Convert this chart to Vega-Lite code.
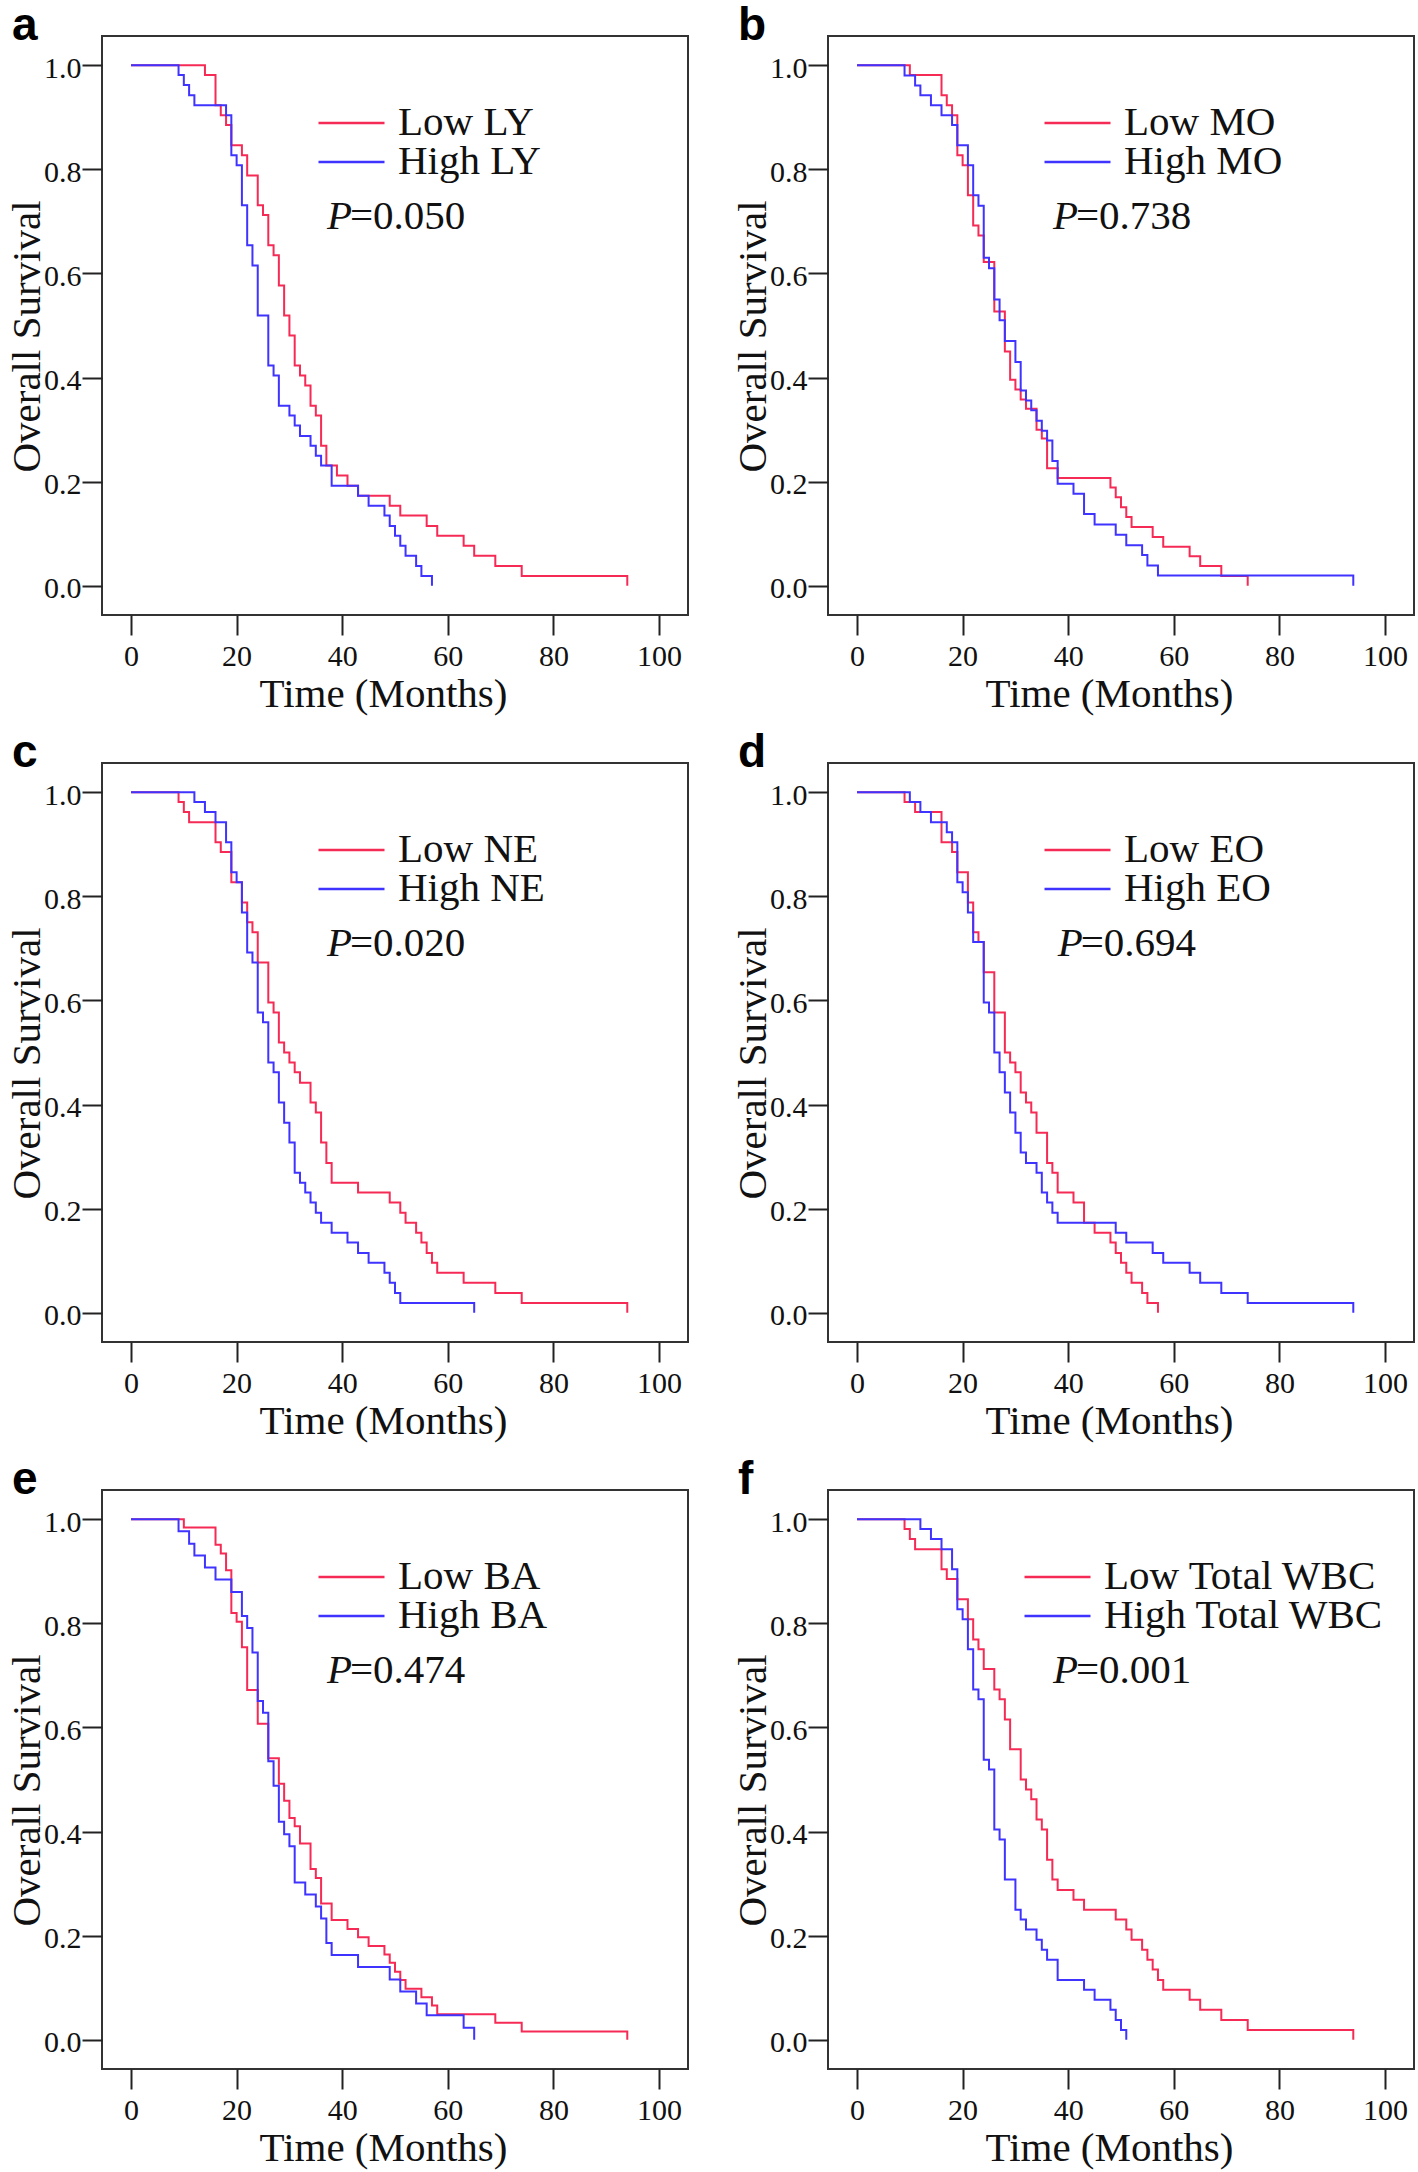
{
"$schema": "https://vega.github.io/schema/vega-lite/v6.json",
"padding": {"left": 5, "top": 2, "right": 2, "bottom": 2},
"background": "white",
"config": {
 "font": "Liberation Serif",
 "view": {"stroke": "#333", "strokeWidth": 2},
 "axis": {"grid": false, "domain": false, "tickColor": "#222", "tickWidth": 2, "tickSize": 20, "labelFont": "Liberation Serif", "labelFontSize": 30, "labelColor": "#111", "titleFont": "Liberation Serif", "titleFontSize": 41, "titleFontWeight": "normal", "titleColor": "#111", "labelFlush": false, "labelOverlap": false},
 "axisX": {"labelPadding": 6, "titlePadding": 3, "titleX": 281},
 "axisY": {"labelPadding": 1, "labelOffset": 3, "titlePadding": 4, "titleBaseline": "alphabetic", "titleY": 300},
 "legend": {"orient": "none", "legendX": 215, "legendY": 70, "symbolType": "stroke", "symbolSize": 4356, "symbolStrokeWidth": 2.5, "labelFont": "Liberation Serif", "labelFontSize": 41, "labelColor": "#111", "labelOffset": 12, "labelLimit": 500, "clipHeight": 34, "rowPadding": -2},
 "title": {"font": "Liberation Sans", "fontSize": 46, "fontWeight": "bold", "anchor": "start", "frame": "group", "dx": -90, "offset": -14, "baseline": "alphabetic", "color": "#000"}
},
"datasets": {
 "a": [
  {"t":0,"s":1,"g":"Low LY"},{"t":14,"s":0.981,"g":"Low LY"},{"t":16,"s":0.923,"g":"Low LY"},{"t":17,"s":0.904,"g":"Low LY"},{"t":18,"s":0.885,"g":"Low LY"},{"t":19,"s":0.846,"g":"Low LY"},{"t":21,"s":0.827,"g":"Low LY"},{"t":22,"s":0.788,"g":"Low LY"},{"t":24,"s":0.731,"g":"Low LY"},{"t":25,"s":0.712,"g":"Low LY"},{"t":26,"s":0.654,"g":"Low LY"},{"t":27,"s":0.635,"g":"Low LY"},{"t":28,"s":0.577,"g":"Low LY"},{"t":29,"s":0.519,"g":"Low LY"},{"t":30,"s":0.481,"g":"Low LY"},{"t":31,"s":0.423,"g":"Low LY"},{"t":32,"s":0.404,"g":"Low LY"},{"t":33,"s":0.385,"g":"Low LY"},{"t":34,"s":0.346,"g":"Low LY"},{"t":35,"s":0.327,"g":"Low LY"},{"t":36,"s":0.269,"g":"Low LY"},{"t":37,"s":0.231,"g":"Low LY"},{"t":39,"s":0.212,"g":"Low LY"},{"t":41,"s":0.192,"g":"Low LY"},{"t":43,"s":0.173,"g":"Low LY"},{"t":49,"s":0.154,"g":"Low LY"},{"t":51,"s":0.135,"g":"Low LY"},{"t":56,"s":0.115,"g":"Low LY"},{"t":58,"s":0.096,"g":"Low LY"},{"t":63,"s":0.077,"g":"Low LY"},{"t":65,"s":0.058,"g":"Low LY"},{"t":69,"s":0.038,"g":"Low LY"},{"t":74,"s":0.019,"g":"Low LY"},{"t":94,"s":0,"g":"Low LY"},
  {"t":0,"s":1,"g":"High LY"},{"t":9,"s":0.981,"g":"High LY"},{"t":10,"s":0.962,"g":"High LY"},{"t":11,"s":0.942,"g":"High LY"},{"t":12,"s":0.923,"g":"High LY"},{"t":18,"s":0.904,"g":"High LY"},{"t":19,"s":0.827,"g":"High LY"},{"t":20,"s":0.808,"g":"High LY"},{"t":21,"s":0.731,"g":"High LY"},{"t":22,"s":0.654,"g":"High LY"},{"t":23,"s":0.615,"g":"High LY"},{"t":24,"s":0.519,"g":"High LY"},{"t":26,"s":0.423,"g":"High LY"},{"t":27,"s":0.404,"g":"High LY"},{"t":28,"s":0.346,"g":"High LY"},{"t":30,"s":0.327,"g":"High LY"},{"t":31,"s":0.308,"g":"High LY"},{"t":32,"s":0.288,"g":"High LY"},{"t":34,"s":0.269,"g":"High LY"},{"t":35,"s":0.25,"g":"High LY"},{"t":36,"s":0.231,"g":"High LY"},{"t":38,"s":0.192,"g":"High LY"},{"t":43,"s":0.173,"g":"High LY"},{"t":45,"s":0.154,"g":"High LY"},{"t":48,"s":0.135,"g":"High LY"},{"t":49,"s":0.115,"g":"High LY"},{"t":50,"s":0.096,"g":"High LY"},{"t":51,"s":0.077,"g":"High LY"},{"t":52,"s":0.058,"g":"High LY"},{"t":54,"s":0.038,"g":"High LY"},{"t":55,"s":0.019,"g":"High LY"},{"t":57,"s":0,"g":"High LY"}
 ],
 "b": [
  {"t":0,"s":1,"g":"Low MO"},{"t":10,"s":0.981,"g":"Low MO"},{"t":16,"s":0.942,"g":"Low MO"},{"t":17,"s":0.923,"g":"Low MO"},{"t":18,"s":0.904,"g":"Low MO"},{"t":19,"s":0.827,"g":"Low MO"},{"t":20,"s":0.808,"g":"Low MO"},{"t":21,"s":0.75,"g":"Low MO"},{"t":22,"s":0.692,"g":"Low MO"},{"t":23,"s":0.673,"g":"Low MO"},{"t":24,"s":0.622,"g":"Low MO"},{"t":26,"s":0.527,"g":"Low MO"},{"t":28,"s":0.45,"g":"Low MO"},{"t":29,"s":0.396,"g":"Low MO"},{"t":30,"s":0.377,"g":"Low MO"},{"t":31,"s":0.358,"g":"Low MO"},{"t":32,"s":0.34,"g":"Low MO"},{"t":34,"s":0.3,"g":"Low MO"},{"t":35,"s":0.283,"g":"Low MO"},{"t":36,"s":0.226,"g":"Low MO"},{"t":38,"s":0.207,"g":"Low MO"},{"t":48,"s":0.189,"g":"Low MO"},{"t":49,"s":0.17,"g":"Low MO"},{"t":50,"s":0.151,"g":"Low MO"},{"t":51,"s":0.132,"g":"Low MO"},{"t":52,"s":0.113,"g":"Low MO"},{"t":56,"s":0.094,"g":"Low MO"},{"t":58,"s":0.075,"g":"Low MO"},{"t":63,"s":0.057,"g":"Low MO"},{"t":65,"s":0.038,"g":"Low MO"},{"t":69,"s":0.019,"g":"Low MO"},{"t":74,"s":0,"g":"Low MO"},
  {"t":0,"s":1,"g":"High MO"},{"t":9,"s":0.98,"g":"High MO"},{"t":11,"s":0.961,"g":"High MO"},{"t":12,"s":0.942,"g":"High MO"},{"t":14,"s":0.923,"g":"High MO"},{"t":16,"s":0.904,"g":"High MO"},{"t":18,"s":0.885,"g":"High MO"},{"t":19,"s":0.846,"g":"High MO"},{"t":21,"s":0.808,"g":"High MO"},{"t":22,"s":0.75,"g":"High MO"},{"t":23,"s":0.73,"g":"High MO"},{"t":24,"s":0.63,"g":"High MO"},{"t":25,"s":0.61,"g":"High MO"},{"t":26,"s":0.55,"g":"High MO"},{"t":27,"s":0.51,"g":"High MO"},{"t":28,"s":0.47,"g":"High MO"},{"t":30,"s":0.43,"g":"High MO"},{"t":31,"s":0.375,"g":"High MO"},{"t":32,"s":0.356,"g":"High MO"},{"t":33,"s":0.337,"g":"High MO"},{"t":34,"s":0.317,"g":"High MO"},{"t":35,"s":0.298,"g":"High MO"},{"t":36,"s":0.279,"g":"High MO"},{"t":37,"s":0.24,"g":"High MO"},{"t":38,"s":0.196,"g":"High MO"},{"t":41,"s":0.177,"g":"High MO"},{"t":43,"s":0.138,"g":"High MO"},{"t":45,"s":0.118,"g":"High MO"},{"t":49,"s":0.098,"g":"High MO"},{"t":51,"s":0.078,"g":"High MO"},{"t":54,"s":0.059,"g":"High MO"},{"t":55,"s":0.039,"g":"High MO"},{"t":57,"s":0.02,"g":"High MO"},{"t":94,"s":0,"g":"High MO"}
 ],
 "c": [
  {"t":0,"s":1,"g":"Low NE"},{"t":9,"s":0.981,"g":"Low NE"},{"t":10,"s":0.962,"g":"Low NE"},{"t":11,"s":0.942,"g":"Low NE"},{"t":16,"s":0.904,"g":"Low NE"},{"t":17,"s":0.885,"g":"Low NE"},{"t":19,"s":0.827,"g":"Low NE"},{"t":21,"s":0.788,"g":"Low NE"},{"t":22,"s":0.75,"g":"Low NE"},{"t":23,"s":0.731,"g":"Low NE"},{"t":24,"s":0.673,"g":"Low NE"},{"t":26,"s":0.596,"g":"Low NE"},{"t":27,"s":0.577,"g":"Low NE"},{"t":28,"s":0.519,"g":"Low NE"},{"t":29,"s":0.5,"g":"Low NE"},{"t":30,"s":0.481,"g":"Low NE"},{"t":31,"s":0.462,"g":"Low NE"},{"t":32,"s":0.442,"g":"Low NE"},{"t":34,"s":0.404,"g":"Low NE"},{"t":35,"s":0.385,"g":"Low NE"},{"t":36,"s":0.327,"g":"Low NE"},{"t":37,"s":0.288,"g":"Low NE"},{"t":38,"s":0.25,"g":"Low NE"},{"t":43,"s":0.231,"g":"Low NE"},{"t":49,"s":0.212,"g":"Low NE"},{"t":51,"s":0.192,"g":"Low NE"},{"t":52,"s":0.173,"g":"Low NE"},{"t":54,"s":0.154,"g":"Low NE"},{"t":55,"s":0.135,"g":"Low NE"},{"t":56,"s":0.115,"g":"Low NE"},{"t":57,"s":0.096,"g":"Low NE"},{"t":58,"s":0.077,"g":"Low NE"},{"t":63,"s":0.058,"g":"Low NE"},{"t":69,"s":0.038,"g":"Low NE"},{"t":74,"s":0.019,"g":"Low NE"},{"t":94,"s":0,"g":"Low NE"},
  {"t":0,"s":1,"g":"High NE"},{"t":12,"s":0.981,"g":"High NE"},{"t":14,"s":0.962,"g":"High NE"},{"t":16,"s":0.942,"g":"High NE"},{"t":18,"s":0.904,"g":"High NE"},{"t":19,"s":0.846,"g":"High NE"},{"t":20,"s":0.827,"g":"High NE"},{"t":21,"s":0.769,"g":"High NE"},{"t":22,"s":0.692,"g":"High NE"},{"t":23,"s":0.673,"g":"High NE"},{"t":24,"s":0.577,"g":"High NE"},{"t":25,"s":0.558,"g":"High NE"},{"t":26,"s":0.481,"g":"High NE"},{"t":27,"s":0.462,"g":"High NE"},{"t":28,"s":0.404,"g":"High NE"},{"t":29,"s":0.365,"g":"High NE"},{"t":30,"s":0.327,"g":"High NE"},{"t":31,"s":0.269,"g":"High NE"},{"t":32,"s":0.25,"g":"High NE"},{"t":33,"s":0.231,"g":"High NE"},{"t":34,"s":0.212,"g":"High NE"},{"t":35,"s":0.192,"g":"High NE"},{"t":36,"s":0.173,"g":"High NE"},{"t":38,"s":0.154,"g":"High NE"},{"t":41,"s":0.135,"g":"High NE"},{"t":43,"s":0.115,"g":"High NE"},{"t":45,"s":0.096,"g":"High NE"},{"t":48,"s":0.077,"g":"High NE"},{"t":49,"s":0.058,"g":"High NE"},{"t":50,"s":0.038,"g":"High NE"},{"t":51,"s":0.019,"g":"High NE"},{"t":65,"s":0,"g":"High NE"}
 ],
 "d": [
  {"t":0,"s":1,"g":"Low EO"},{"t":9,"s":0.981,"g":"Low EO"},{"t":11,"s":0.962,"g":"Low EO"},{"t":16,"s":0.904,"g":"Low EO"},{"t":18,"s":0.885,"g":"Low EO"},{"t":19,"s":0.846,"g":"Low EO"},{"t":21,"s":0.788,"g":"Low EO"},{"t":22,"s":0.731,"g":"Low EO"},{"t":23,"s":0.712,"g":"Low EO"},{"t":24,"s":0.654,"g":"Low EO"},{"t":26,"s":0.577,"g":"Low EO"},{"t":28,"s":0.5,"g":"Low EO"},{"t":29,"s":0.481,"g":"Low EO"},{"t":30,"s":0.462,"g":"Low EO"},{"t":31,"s":0.423,"g":"Low EO"},{"t":32,"s":0.404,"g":"Low EO"},{"t":33,"s":0.385,"g":"Low EO"},{"t":34,"s":0.346,"g":"Low EO"},{"t":36,"s":0.288,"g":"Low EO"},{"t":37,"s":0.269,"g":"Low EO"},{"t":38,"s":0.231,"g":"Low EO"},{"t":41,"s":0.212,"g":"Low EO"},{"t":43,"s":0.173,"g":"Low EO"},{"t":45,"s":0.154,"g":"Low EO"},{"t":48,"s":0.135,"g":"Low EO"},{"t":49,"s":0.115,"g":"Low EO"},{"t":50,"s":0.096,"g":"Low EO"},{"t":51,"s":0.077,"g":"Low EO"},{"t":52,"s":0.058,"g":"Low EO"},{"t":54,"s":0.038,"g":"Low EO"},{"t":55,"s":0.019,"g":"Low EO"},{"t":57,"s":0,"g":"Low EO"},
  {"t":0,"s":1,"g":"High EO"},{"t":10,"s":0.981,"g":"High EO"},{"t":12,"s":0.962,"g":"High EO"},{"t":14,"s":0.942,"g":"High EO"},{"t":17,"s":0.923,"g":"High EO"},{"t":18,"s":0.904,"g":"High EO"},{"t":19,"s":0.827,"g":"High EO"},{"t":20,"s":0.808,"g":"High EO"},{"t":21,"s":0.769,"g":"High EO"},{"t":22,"s":0.712,"g":"High EO"},{"t":24,"s":0.596,"g":"High EO"},{"t":25,"s":0.577,"g":"High EO"},{"t":26,"s":0.5,"g":"High EO"},{"t":27,"s":0.462,"g":"High EO"},{"t":28,"s":0.423,"g":"High EO"},{"t":29,"s":0.385,"g":"High EO"},{"t":30,"s":0.346,"g":"High EO"},{"t":31,"s":0.308,"g":"High EO"},{"t":32,"s":0.288,"g":"High EO"},{"t":34,"s":0.269,"g":"High EO"},{"t":35,"s":0.231,"g":"High EO"},{"t":36,"s":0.212,"g":"High EO"},{"t":37,"s":0.192,"g":"High EO"},{"t":38,"s":0.173,"g":"High EO"},{"t":49,"s":0.154,"g":"High EO"},{"t":51,"s":0.135,"g":"High EO"},{"t":56,"s":0.115,"g":"High EO"},{"t":58,"s":0.096,"g":"High EO"},{"t":63,"s":0.077,"g":"High EO"},{"t":65,"s":0.058,"g":"High EO"},{"t":69,"s":0.038,"g":"High EO"},{"t":74,"s":0.019,"g":"High EO"},{"t":94,"s":0,"g":"High EO"}
 ],
 "e": [
  {"t":0,"s":1,"g":"Low BA"},{"t":10,"s":0.984,"g":"Low BA"},{"t":16,"s":0.951,"g":"Low BA"},{"t":17,"s":0.934,"g":"Low BA"},{"t":18,"s":0.902,"g":"Low BA"},{"t":19,"s":0.82,"g":"Low BA"},{"t":20,"s":0.803,"g":"Low BA"},{"t":21,"s":0.754,"g":"Low BA"},{"t":22,"s":0.672,"g":"Low BA"},{"t":24,"s":0.607,"g":"Low BA"},{"t":26,"s":0.541,"g":"Low BA"},{"t":28,"s":0.492,"g":"Low BA"},{"t":29,"s":0.459,"g":"Low BA"},{"t":30,"s":0.426,"g":"Low BA"},{"t":31,"s":0.41,"g":"Low BA"},{"t":32,"s":0.377,"g":"Low BA"},{"t":34,"s":0.328,"g":"Low BA"},{"t":35,"s":0.311,"g":"Low BA"},{"t":36,"s":0.262,"g":"Low BA"},{"t":38,"s":0.23,"g":"Low BA"},{"t":41,"s":0.213,"g":"Low BA"},{"t":43,"s":0.197,"g":"Low BA"},{"t":45,"s":0.18,"g":"Low BA"},{"t":48,"s":0.164,"g":"Low BA"},{"t":49,"s":0.148,"g":"Low BA"},{"t":50,"s":0.131,"g":"Low BA"},{"t":51,"s":0.115,"g":"Low BA"},{"t":52,"s":0.098,"g":"Low BA"},{"t":55,"s":0.082,"g":"Low BA"},{"t":57,"s":0.066,"g":"Low BA"},{"t":58,"s":0.049,"g":"Low BA"},{"t":69,"s":0.033,"g":"Low BA"},{"t":74,"s":0.016,"g":"Low BA"},{"t":94,"s":0,"g":"Low BA"},
  {"t":0,"s":1,"g":"High BA"},{"t":9,"s":0.977,"g":"High BA"},{"t":11,"s":0.953,"g":"High BA"},{"t":12,"s":0.93,"g":"High BA"},{"t":14,"s":0.907,"g":"High BA"},{"t":16,"s":0.884,"g":"High BA"},{"t":19,"s":0.86,"g":"High BA"},{"t":21,"s":0.814,"g":"High BA"},{"t":22,"s":0.791,"g":"High BA"},{"t":23,"s":0.744,"g":"High BA"},{"t":24,"s":0.651,"g":"High BA"},{"t":25,"s":0.628,"g":"High BA"},{"t":26,"s":0.535,"g":"High BA"},{"t":27,"s":0.488,"g":"High BA"},{"t":28,"s":0.419,"g":"High BA"},{"t":29,"s":0.395,"g":"High BA"},{"t":30,"s":0.372,"g":"High BA"},{"t":31,"s":0.302,"g":"High BA"},{"t":33,"s":0.279,"g":"High BA"},{"t":35,"s":0.256,"g":"High BA"},{"t":36,"s":0.233,"g":"High BA"},{"t":37,"s":0.186,"g":"High BA"},{"t":38,"s":0.163,"g":"High BA"},{"t":43,"s":0.14,"g":"High BA"},{"t":49,"s":0.116,"g":"High BA"},{"t":51,"s":0.093,"g":"High BA"},{"t":54,"s":0.07,"g":"High BA"},{"t":56,"s":0.047,"g":"High BA"},{"t":63,"s":0.023,"g":"High BA"},{"t":65,"s":0,"g":"High BA"}
 ],
 "f": [
  {"t":0,"s":1,"g":"Low Total WBC"},{"t":9,"s":0.981,"g":"Low Total WBC"},{"t":10,"s":0.962,"g":"Low Total WBC"},{"t":11,"s":0.942,"g":"Low Total WBC"},{"t":16,"s":0.904,"g":"Low Total WBC"},{"t":17,"s":0.885,"g":"Low Total WBC"},{"t":19,"s":0.846,"g":"Low Total WBC"},{"t":21,"s":0.808,"g":"Low Total WBC"},{"t":22,"s":0.769,"g":"Low Total WBC"},{"t":23,"s":0.75,"g":"Low Total WBC"},{"t":24,"s":0.712,"g":"Low Total WBC"},{"t":26,"s":0.673,"g":"Low Total WBC"},{"t":27,"s":0.654,"g":"Low Total WBC"},{"t":28,"s":0.615,"g":"Low Total WBC"},{"t":29,"s":0.558,"g":"Low Total WBC"},{"t":31,"s":0.5,"g":"Low Total WBC"},{"t":32,"s":0.481,"g":"Low Total WBC"},{"t":33,"s":0.462,"g":"Low Total WBC"},{"t":34,"s":0.423,"g":"Low Total WBC"},{"t":35,"s":0.404,"g":"Low Total WBC"},{"t":36,"s":0.346,"g":"Low Total WBC"},{"t":37,"s":0.308,"g":"Low Total WBC"},{"t":38,"s":0.288,"g":"Low Total WBC"},{"t":41,"s":0.269,"g":"Low Total WBC"},{"t":43,"s":0.25,"g":"Low Total WBC"},{"t":49,"s":0.231,"g":"Low Total WBC"},{"t":51,"s":0.212,"g":"Low Total WBC"},{"t":52,"s":0.192,"g":"Low Total WBC"},{"t":54,"s":0.173,"g":"Low Total WBC"},{"t":55,"s":0.154,"g":"Low Total WBC"},{"t":56,"s":0.135,"g":"Low Total WBC"},{"t":57,"s":0.115,"g":"Low Total WBC"},{"t":58,"s":0.096,"g":"Low Total WBC"},{"t":63,"s":0.077,"g":"Low Total WBC"},{"t":65,"s":0.058,"g":"Low Total WBC"},{"t":69,"s":0.038,"g":"Low Total WBC"},{"t":74,"s":0.019,"g":"Low Total WBC"},{"t":94,"s":0,"g":"Low Total WBC"},
  {"t":0,"s":1,"g":"High Total WBC"},{"t":12,"s":0.981,"g":"High Total WBC"},{"t":14,"s":0.962,"g":"High Total WBC"},{"t":16,"s":0.942,"g":"High Total WBC"},{"t":18,"s":0.904,"g":"High Total WBC"},{"t":19,"s":0.827,"g":"High Total WBC"},{"t":20,"s":0.808,"g":"High Total WBC"},{"t":21,"s":0.75,"g":"High Total WBC"},{"t":22,"s":0.673,"g":"High Total WBC"},{"t":23,"s":0.654,"g":"High Total WBC"},{"t":24,"s":0.538,"g":"High Total WBC"},{"t":25,"s":0.519,"g":"High Total WBC"},{"t":26,"s":0.404,"g":"High Total WBC"},{"t":27,"s":0.385,"g":"High Total WBC"},{"t":28,"s":0.308,"g":"High Total WBC"},{"t":30,"s":0.25,"g":"High Total WBC"},{"t":31,"s":0.231,"g":"High Total WBC"},{"t":32,"s":0.212,"g":"High Total WBC"},{"t":34,"s":0.192,"g":"High Total WBC"},{"t":35,"s":0.173,"g":"High Total WBC"},{"t":36,"s":0.154,"g":"High Total WBC"},{"t":38,"s":0.115,"g":"High Total WBC"},{"t":43,"s":0.096,"g":"High Total WBC"},{"t":45,"s":0.077,"g":"High Total WBC"},{"t":48,"s":0.058,"g":"High Total WBC"},{"t":49,"s":0.038,"g":"High Total WBC"},{"t":50,"s":0.019,"g":"High Total WBC"},{"t":51,"s":0,"g":"High Total WBC"}
 ]
},
"bounds": "flush",
"columns": 2,
"spacing": {"row": 148, "column": 140},
"resolve": {"scale": {"color": "independent"}, "legend": {"color": "independent"}},
"concat": [
  {"title": {"text": "a"}, "width": 586, "height": 579, "layer": [
   {"data": {"name": "a"}, "mark": {"type": "line", "interpolate": "step-after", "strokeWidth": 2},
    "encoding": {"x": {"field": "t", "type": "quantitative", "scale": {"domain": [-5.5, 105.5], "nice": false, "zero": false}, "axis": {"values": [0,20,40,60,80,100], "title": "Time (Months)"}},
     "y": {"field": "s", "type": "quantitative", "scale": {"domain": [-0.056, 1.056], "nice": false, "zero": false}, "axis": {"values": [0,0.2,0.4,0.6,0.8,1], "format": ".1f", "title": "Overall Survival"}},
     "color": {"field": "g", "type": "nominal", "scale": {"domain": ["Low LY", "High LY"], "range": ["#F52A55", "#3F33FF"]}, "legend": {"title": null}}}},
   {"data": {"values": [{"l": "P"}]}, "mark": {"type": "text", "font": "Liberation Serif", "fontStyle": "italic", "fontSize": 41, "align": "left", "baseline": "alphabetic", "color": "#111"}, "encoding": {"text": {"field": "l"}, "x": {"datum": 37.1}, "y": {"datum": 0.686}}},
   {"data": {"values": [{"l": "=0.050"}]}, "mark": {"type": "text", "font": "Liberation Serif", "fontSize": 41, "align": "left", "baseline": "alphabetic", "dx": 23, "color": "#111"}, "encoding": {"text": {"field": "l"}, "x": {"datum": 37.1}, "y": {"datum": 0.686}}}
  ]},
  {"title": {"text": "b"}, "width": 586, "height": 579, "layer": [
   {"data": {"name": "b"}, "mark": {"type": "line", "interpolate": "step-after", "strokeWidth": 2},
    "encoding": {"x": {"field": "t", "type": "quantitative", "scale": {"domain": [-5.5, 105.5], "nice": false, "zero": false}, "axis": {"values": [0,20,40,60,80,100], "title": "Time (Months)"}},
     "y": {"field": "s", "type": "quantitative", "scale": {"domain": [-0.056, 1.056], "nice": false, "zero": false}, "axis": {"values": [0,0.2,0.4,0.6,0.8,1], "format": ".1f", "title": "Overall Survival"}},
     "color": {"field": "g", "type": "nominal", "scale": {"domain": ["Low MO", "High MO"], "range": ["#F52A55", "#3F33FF"]}, "legend": {"title": null}}}},
   {"data": {"values": [{"l": "P"}]}, "mark": {"type": "text", "font": "Liberation Serif", "fontStyle": "italic", "fontSize": 41, "align": "left", "baseline": "alphabetic", "color": "#111"}, "encoding": {"text": {"field": "l"}, "x": {"datum": 37.1}, "y": {"datum": 0.686}}},
   {"data": {"values": [{"l": "=0.738"}]}, "mark": {"type": "text", "font": "Liberation Serif", "fontSize": 41, "align": "left", "baseline": "alphabetic", "dx": 23, "color": "#111"}, "encoding": {"text": {"field": "l"}, "x": {"datum": 37.1}, "y": {"datum": 0.686}}}
  ]},
   {"title": {"text": "c"}, "width": 586, "height": 579, "layer": [
    {"data": {"name": "c"}, "mark": {"type": "line", "interpolate": "step-after", "strokeWidth": 2},
     "encoding": {"x": {"field": "t", "type": "quantitative", "scale": {"domain": [-5.5, 105.5], "nice": false, "zero": false}, "axis": {"values": [0,20,40,60,80,100], "title": "Time (Months)"}},
      "y": {"field": "s", "type": "quantitative", "scale": {"domain": [-0.056, 1.056], "nice": false, "zero": false}, "axis": {"values": [0,0.2,0.4,0.6,0.8,1], "format": ".1f", "title": "Overall Survival"}},
      "color": {"field": "g", "type": "nominal", "scale": {"domain": ["Low NE", "High NE"], "range": ["#F52A55", "#3F33FF"]}, "legend": {"title": null}}}},
    {"data": {"values": [{"l": "P"}]}, "mark": {"type": "text", "font": "Liberation Serif", "fontStyle": "italic", "fontSize": 41, "align": "left", "baseline": "alphabetic", "color": "#111"}, "encoding": {"text": {"field": "l"}, "x": {"datum": 37.1}, "y": {"datum": 0.686}}},
    {"data": {"values": [{"l": "=0.020"}]}, "mark": {"type": "text", "font": "Liberation Serif", "fontSize": 41, "align": "left", "baseline": "alphabetic", "dx": 23, "color": "#111"}, "encoding": {"text": {"field": "l"}, "x": {"datum": 37.1}, "y": {"datum": 0.686}}}
   ]},
   {"title": {"text": "d"}, "width": 586, "height": 579, "layer": [
    {"data": {"name": "d"}, "mark": {"type": "line", "interpolate": "step-after", "strokeWidth": 2},
     "encoding": {"x": {"field": "t", "type": "quantitative", "scale": {"domain": [-5.5, 105.5], "nice": false, "zero": false}, "axis": {"values": [0,20,40,60,80,100], "title": "Time (Months)"}},
      "y": {"field": "s", "type": "quantitative", "scale": {"domain": [-0.056, 1.056], "nice": false, "zero": false}, "axis": {"values": [0,0.2,0.4,0.6,0.8,1], "format": ".1f", "title": "Overall Survival"}},
      "color": {"field": "g", "type": "nominal", "scale": {"domain": ["Low EO", "High EO"], "range": ["#F52A55", "#3F33FF"]}, "legend": {"title": null}}}},
    {"data": {"values": [{"l": "P"}]}, "mark": {"type": "text", "font": "Liberation Serif", "fontStyle": "italic", "fontSize": 41, "align": "left", "baseline": "alphabetic", "color": "#111"}, "encoding": {"text": {"field": "l"}, "x": {"datum": 38}, "y": {"datum": 0.686}}},
    {"data": {"values": [{"l": "=0.694"}]}, "mark": {"type": "text", "font": "Liberation Serif", "fontSize": 41, "align": "left", "baseline": "alphabetic", "dx": 23, "color": "#111"}, "encoding": {"text": {"field": "l"}, "x": {"datum": 38}, "y": {"datum": 0.686}}}
   ]},
   {"title": {"text": "e"}, "width": 586, "height": 579, "layer": [
    {"data": {"name": "e"}, "mark": {"type": "line", "interpolate": "step-after", "strokeWidth": 2},
     "encoding": {"x": {"field": "t", "type": "quantitative", "scale": {"domain": [-5.5, 105.5], "nice": false, "zero": false}, "axis": {"values": [0,20,40,60,80,100], "title": "Time (Months)"}},
      "y": {"field": "s", "type": "quantitative", "scale": {"domain": [-0.056, 1.056], "nice": false, "zero": false}, "axis": {"values": [0,0.2,0.4,0.6,0.8,1], "format": ".1f", "title": "Overall Survival"}},
      "color": {"field": "g", "type": "nominal", "scale": {"domain": ["Low BA", "High BA"], "range": ["#F52A55", "#3F33FF"]}, "legend": {"title": null}}}},
    {"data": {"values": [{"l": "P"}]}, "mark": {"type": "text", "font": "Liberation Serif", "fontStyle": "italic", "fontSize": 41, "align": "left", "baseline": "alphabetic", "color": "#111"}, "encoding": {"text": {"field": "l"}, "x": {"datum": 37.1}, "y": {"datum": 0.686}}},
    {"data": {"values": [{"l": "=0.474"}]}, "mark": {"type": "text", "font": "Liberation Serif", "fontSize": 41, "align": "left", "baseline": "alphabetic", "dx": 23, "color": "#111"}, "encoding": {"text": {"field": "l"}, "x": {"datum": 37.1}, "y": {"datum": 0.686}}}
   ]},
   {"title": {"text": "f"}, "width": 586, "height": 579, "layer": [
    {"data": {"name": "f"}, "mark": {"type": "line", "interpolate": "step-after", "strokeWidth": 2},
     "encoding": {"x": {"field": "t", "type": "quantitative", "scale": {"domain": [-5.5, 105.5], "nice": false, "zero": false}, "axis": {"values": [0,20,40,60,80,100], "title": "Time (Months)"}},
      "y": {"field": "s", "type": "quantitative", "scale": {"domain": [-0.056, 1.056], "nice": false, "zero": false}, "axis": {"values": [0,0.2,0.4,0.6,0.8,1], "format": ".1f", "title": "Overall Survival"}},
      "color": {"field": "g", "type": "nominal", "scale": {"domain": ["Low Total WBC", "High Total WBC"], "range": ["#F52A55", "#3F33FF"]}, "legend": {"title": null, "legendX": 195}}}},
    {"data": {"values": [{"l": "P"}]}, "mark": {"type": "text", "font": "Liberation Serif", "fontStyle": "italic", "fontSize": 41, "align": "left", "baseline": "alphabetic", "color": "#111"}, "encoding": {"text": {"field": "l"}, "x": {"datum": 37.1}, "y": {"datum": 0.686}}},
    {"data": {"values": [{"l": "=0.001"}]}, "mark": {"type": "text", "font": "Liberation Serif", "fontSize": 41, "align": "left", "baseline": "alphabetic", "dx": 23, "color": "#111"}, "encoding": {"text": {"field": "l"}, "x": {"datum": 37.1}, "y": {"datum": 0.686}}}
   ]}
]
}
